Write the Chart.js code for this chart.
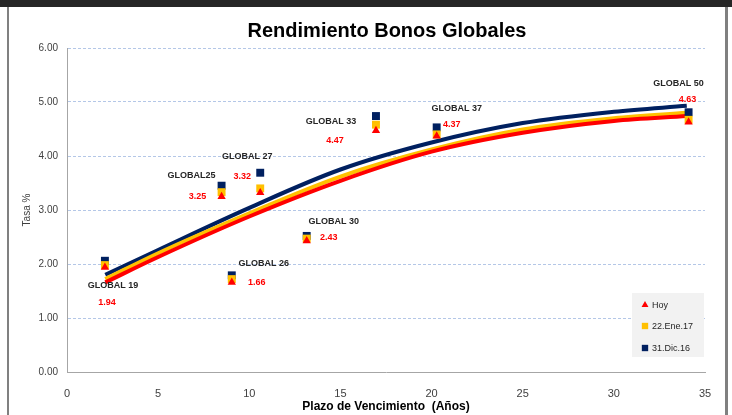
<!DOCTYPE html>
<html>
<head>
<meta charset="utf-8">
<script src="https://cdn.jsdelivr.net/npm/chart.js@4"></script>
<style>
  html, body { margin: 0; padding: 0; background: #fff; }
  #wrap { width: 732px; height: 415px; position: relative; }
</style>
</head>
<body>
<div id="wrap"><canvas id="yieldChart" width="732" height="415"></canvas></div>
<script>
// bonos y plazo (años)
const bonos = ['GLOBAL 19', 'GLOBAL25', 'GLOBAL 27', 'GLOBAL 26', 'GLOBAL 30', 'GLOBAL 33', 'GLOBAL 37', 'GLOBAL 50'];
const plazo = [2.08, 8.48, 10.6, 9.04, 13.15, 16.95, 20.28, 34.1];

// tasas por fecha
const tasaHoy = [1.94, 3.25, 3.32, 1.66, 2.43, 4.47, 4.37, 4.63];
const tasaEne17 = [1.98, 3.33, 3.40, 1.72, 2.47, 4.58, 4.40, 4.67];
const tasaDic16 = [2.06, 3.45, 3.69, 1.79, 2.52, 4.74, 4.53, 4.81];

// curvas de tendencia
const curvaX = [2.1, 5, 10, 15, 20, 25, 30, 34];
const curvaHoy = [1.66, 2.13, 2.88, 3.54, 4.08, 4.43, 4.65, 4.74];
const curvaEne17 = [1.72, 2.20, 2.94, 3.62, 4.12, 4.49, 4.70, 4.80];
const curvaDic16 = [1.80, 2.26, 3.04, 3.75, 4.25, 4.61, 4.82, 4.93];

const yTicks = [0, 1, 2, 3, 4, 5, 6];
const xTicks = [0, 5, 10, 15, 20, 25, 30, 35];

const RED = '#ff0000', YELLOW = '#ffc000', NAVY = '#002060';

// label offsets (px) relative to the Hoy point
const nameOffset = [[8, 18], [-30, -21], [-13, -36], [32, -19], [27, -19], [-45, -9], [20, -28], [-10, -38]];
const valueOffset = [[2, 35], [-24, 0], [-18, -16], [25, 0], [22, -3], [-41, 10], [15, -12], [-1, -22]];

const toPoints = (xs, ys) => xs.map((x, i) => ({ x: x, y: ys[i] }));

const decor = {
  id: 'decor',
  beforeDraw(chart) {
    const ctx = chart.ctx;
    ctx.save();
    ctx.fillStyle = '#fff';
    ctx.fillRect(0, 0, chart.width, chart.height);
    ctx.fillStyle = '#262626';
    ctx.fillRect(0, 0, chart.width, 7);
    ctx.fillStyle = '#808080';
    ctx.fillRect(7, 7, 2, chart.height - 7);
    ctx.fillRect(725, 7, 3, chart.height - 7);
    ctx.restore();
  },
  afterDraw(chart) {
    const ctx = chart.ctx;
    ctx.save();
    ctx.textAlign = 'center';
    ctx.textBaseline = 'middle';

    // titulo
    ctx.fillStyle = '#000';
    ctx.font = 'bold 20px "Liberation Sans", sans-serif';
    ctx.fillText('Rendimiento Bonos Globales', 387, 31);

    // titulos de ejes
    ctx.font = 'bold 12px "Liberation Sans", sans-serif';
    ctx.fillText('Plazo de Vencimiento  (Años)', 386, 407);
    ctx.save();
    ctx.translate(27, 210);
    ctx.rotate(-Math.PI / 2);
    ctx.font = '10px "Liberation Sans", sans-serif';
    ctx.fillStyle = '#404040';
    ctx.fillText('Tasa %', 0, 0);
    ctx.restore();

    // etiquetas de bonos
    const meta = chart.getDatasetMeta(0);
    meta.data.forEach((pt, i) => {
      ctx.font = 'bold 9px "Liberation Sans", sans-serif';
      ctx.fillStyle = '#262626';
      ctx.fillText(bonos[i], pt.x + nameOffset[i][0], pt.y + nameOffset[i][1]);
      ctx.fillStyle = RED;
      ctx.fillText(tasaHoy[i].toFixed(2), pt.x + valueOffset[i][0], pt.y + valueOffset[i][1]);
    });

    // leyenda
    ctx.fillStyle = '#f2f2f2';
    ctx.fillRect(632, 293, 72, 64);
    const items = [
      { text: 'Hoy', color: RED, style: 'triangle', r: 4, y: 305 },
      { text: '22.Ene.17', color: YELLOW, style: 'rect', r: 4.5, y: 326 },
      { text: '31.Dic.16', color: NAVY, style: 'rect', r: 4.5, y: 348 }
    ];
    ctx.textAlign = 'left';
    ctx.font = '9px "Liberation Sans", sans-serif';
    items.forEach(it => {
      ctx.fillStyle = it.color;
      ctx.strokeStyle = it.color;
      Chart.helpers.drawPoint(ctx, { pointStyle: it.style, radius: it.r, borderWidth: 0 }, 645, it.y);
      ctx.fillStyle = '#262626';
      ctx.fillText(it.text, 652, it.y + 0.5);
    });
    ctx.restore();
  }
};

new Chart(document.getElementById('yieldChart'), {
  type: 'scatter',
  data: {
    datasets: [
      { label: 'Hoy', data: toPoints(plazo, tasaHoy), pointStyle: 'triangle', pointRadius: 4.8,
        backgroundColor: RED, borderColor: RED, borderWidth: 0, order: 0 },
      { label: '22.Ene.17', data: toPoints(plazo, tasaEne17), pointStyle: 'rect', pointRadius: 5.6,
        backgroundColor: YELLOW, borderColor: YELLOW, borderWidth: 0, order: 1 },
      { label: '31.Dic.16', data: toPoints(plazo, tasaDic16), pointStyle: 'rect', pointRadius: 5.6,
        backgroundColor: NAVY, borderColor: NAVY, borderWidth: 0, order: 2 },
      { type: 'line', data: toPoints(curvaX, curvaHoy), borderColor: RED, borderWidth: 4,
        pointRadius: 0, tension: 0.4, cubicInterpolationMode: 'monotone', order: 3 },
      { type: 'line', data: toPoints(curvaX, curvaEne17), borderColor: YELLOW, borderWidth: 4,
        pointRadius: 0, tension: 0.4, cubicInterpolationMode: 'monotone', order: 4 },
      { type: 'line', data: toPoints(curvaX, curvaDic16), borderColor: NAVY, borderWidth: 4,
        pointRadius: 0, tension: 0.4, cubicInterpolationMode: 'monotone', order: 5 }
    ]
  },
  options: {
    responsive: false,
    animation: false,
    layout: { padding: { top: 48, right: 27, left: 0, bottom: 0 } },
    plugins: {
      legend: { display: false },
      title: { display: false },
      tooltip: { enabled: false }
    },
    scales: {
      x: {
        type: 'linear',
        min: 0, max: 35,
        afterFit: s => { s.height = 43; },
        afterBuildTicks: s => { s.ticks = xTicks.map(v => ({ value: v })); },
        grid: { display: false, drawTicks: false },
        border: { display: true, color: '#a6a6a6', width: 1 },
        ticks: { padding: 15, color: '#404040', font: { family: '"Liberation Sans", sans-serif', size: 11 },
          callback: v => String(v) }
      },
      y: {
        min: 0, max: 6,
        afterFit: s => { s.width = 67; },
        afterBuildTicks: s => { s.ticks = yTicks.map(v => ({ value: v })); },
        grid: { color: '#b4c7e7', lineWidth: 1, drawTicks: false },
        border: { display: true, color: '#a6a6a6', width: 1, dash: [3, 2] },
        ticks: { padding: 9, color: '#404040', font: { family: '"Liberation Sans", sans-serif', size: 10 },
          callback: v => v.toFixed(2) }
      }
    }
  },
  plugins: [decor]
});
</script>
</body>
</html>
